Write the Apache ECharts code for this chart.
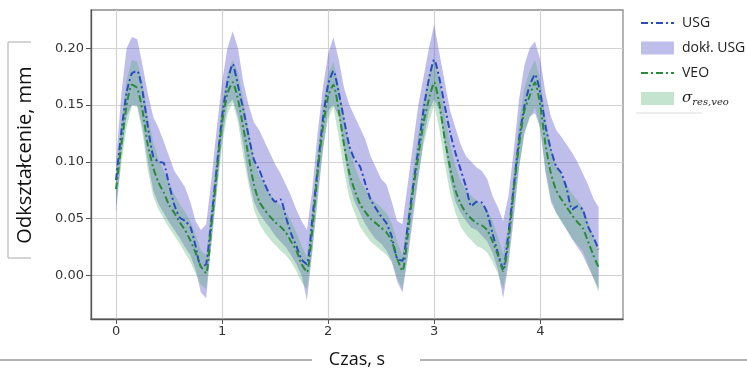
<!DOCTYPE html>
<html>
<head>
<meta charset="utf-8">
<script src="https://cdn.jsdelivr.net/npm/echarts@6/dist/echarts.min.js"></script>
<style>
  html, body { margin: 0; padding: 0; background: #fff; }
  #chart { width: 747px; height: 372px; }
</style>
</head>
<body>
<div id="chart"></div>
<script>
// time, s (sampled every 0.05 s)
const time = [
  0.00, 0.05, 0.10, 0.15, 0.20, 0.25, 0.30, 0.35, 0.40, 0.45,
  0.50, 0.55, 0.60, 0.65, 0.70, 0.75, 0.80, 0.85, 0.90, 0.95,
  1.00, 1.05, 1.10, 1.15, 1.20, 1.25, 1.30, 1.35, 1.40, 1.45,
  1.50, 1.55, 1.60, 1.65, 1.70, 1.75, 1.80, 1.85, 1.90, 1.95,
  2.00, 2.05, 2.10, 2.15, 2.20, 2.25, 2.30, 2.35, 2.40, 2.45,
  2.50, 2.55, 2.60, 2.65, 2.70, 2.75, 2.80, 2.85, 2.90, 2.95,
  3.00, 3.05, 3.10, 3.15, 3.20, 3.25, 3.30, 3.35, 3.40, 3.45,
  3.50, 3.55, 3.60, 3.65, 3.70, 3.75, 3.80, 3.85, 3.90, 3.95,
  4.00, 4.05, 4.10, 4.15, 4.20, 4.25, 4.30, 4.35, 4.40, 4.45,
  4.50, 4.55
];

// USG mean deformation, mm
const usg = [
  0.084, 0.126, 0.161, 0.178, 0.180, 0.162, 0.131, 0.105, 0.100, 0.099,
  0.080, 0.062, 0.051, 0.048, 0.043, 0.026, 0.008, 0.010, 0.050, 0.095,
  0.140, 0.170, 0.186, 0.167, 0.146, 0.123, 0.102, 0.093, 0.081, 0.071,
  0.065, 0.067, 0.052, 0.037, 0.026, 0.014, 0.010, 0.049, 0.093, 0.137,
  0.168, 0.180, 0.161, 0.137, 0.114, 0.102, 0.096, 0.081, 0.067, 0.059,
  0.052, 0.046, 0.034, 0.015, 0.013, 0.043, 0.078, 0.111, 0.146, 0.173,
  0.190, 0.173, 0.149, 0.126, 0.108, 0.093, 0.078, 0.061, 0.065, 0.064,
  0.055, 0.037, 0.020, 0.006, 0.037, 0.078, 0.120, 0.149, 0.167, 0.177,
  0.161, 0.131, 0.111, 0.096, 0.090, 0.076, 0.058, 0.061, 0.058, 0.043,
  0.034, 0.023
];

// USG accuracy band (upper / lower), mm
const usgHi = [
  0.100, 0.160, 0.200, 0.210, 0.208, 0.185, 0.160, 0.140, 0.130, 0.118,
  0.105, 0.092, 0.085, 0.078, 0.065, 0.048, 0.040, 0.045, 0.085, 0.130,
  0.170, 0.200, 0.215, 0.200, 0.170, 0.150, 0.135, 0.128, 0.118, 0.108,
  0.098, 0.090, 0.080, 0.070, 0.058, 0.048, 0.040, 0.075, 0.125, 0.165,
  0.195, 0.210, 0.190, 0.165, 0.150, 0.140, 0.130, 0.120, 0.105, 0.095,
  0.085, 0.080, 0.065, 0.048, 0.045, 0.080, 0.115, 0.150, 0.175, 0.200,
  0.221, 0.195, 0.170, 0.145, 0.130, 0.115, 0.105, 0.100, 0.095, 0.092,
  0.085, 0.070, 0.060, 0.048, 0.070, 0.110, 0.155, 0.185, 0.200, 0.206,
  0.190, 0.160, 0.140, 0.128, 0.122, 0.115, 0.108, 0.100, 0.090, 0.080,
  0.068, 0.060
];
const usgLo = [
  0.055, 0.105, 0.140, 0.150, 0.150, 0.130, 0.100, 0.075, 0.063, 0.055,
  0.047, 0.040, 0.033, 0.025, 0.018, 0.005, -0.015, -0.020, 0.030, 0.075,
  0.120, 0.150, 0.155, 0.140, 0.115, 0.085, 0.065, 0.055, 0.048, 0.042,
  0.035, 0.030, 0.025, 0.018, 0.010, 0.000, -0.022, 0.020, 0.065, 0.110,
  0.145, 0.150, 0.140, 0.110, 0.080, 0.065, 0.055, 0.045, 0.038, 0.032,
  0.028, 0.022, 0.012, -0.005, -0.015, 0.015, 0.050, 0.085, 0.120, 0.145,
  0.155, 0.145, 0.115, 0.085, 0.065, 0.055, 0.048, 0.042, 0.040, 0.035,
  0.030, 0.020, 0.005, -0.020, 0.010, 0.050, 0.095, 0.125, 0.140, 0.143,
  0.130, 0.090, 0.065, 0.055, 0.048, 0.040, 0.032, 0.025, 0.018, 0.008,
  -0.002, -0.012
];

// VEO deformation, mm
const veo = [
  0.076, 0.115, 0.150, 0.168, 0.165, 0.145, 0.115, 0.095, 0.082, 0.073,
  0.062, 0.055, 0.047, 0.040, 0.031, 0.020, 0.008, 0.002, 0.045, 0.090,
  0.135, 0.160, 0.170, 0.155, 0.130, 0.105, 0.080, 0.065, 0.058, 0.052,
  0.047, 0.043, 0.038, 0.030, 0.022, 0.010, 0.003, 0.040, 0.090, 0.130,
  0.158, 0.168, 0.145, 0.115, 0.090, 0.075, 0.063, 0.056, 0.050, 0.046,
  0.042, 0.038, 0.030, 0.015, 0.004, 0.035, 0.075, 0.105, 0.135, 0.155,
  0.170, 0.150, 0.120, 0.095, 0.075, 0.063, 0.055, 0.050, 0.046, 0.044,
  0.040, 0.030, 0.018, 0.004, 0.030, 0.075, 0.115, 0.145, 0.158, 0.170,
  0.150, 0.115, 0.090, 0.075, 0.067, 0.060, 0.053, 0.047, 0.042, 0.030,
  0.018, 0.007
];

// sigma_res,veo band (upper / lower), mm
const veoHi = [
  0.088, 0.135, 0.172, 0.190, 0.188, 0.170, 0.140, 0.118, 0.102, 0.092,
  0.082, 0.072, 0.063, 0.056, 0.048, 0.036, 0.022, 0.018, 0.062, 0.108,
  0.152, 0.178, 0.190, 0.178, 0.155, 0.128, 0.102, 0.088, 0.080, 0.072,
  0.066, 0.062, 0.056, 0.048, 0.038, 0.026, 0.016, 0.058, 0.108, 0.150,
  0.178, 0.188, 0.168, 0.138, 0.112, 0.096, 0.084, 0.076, 0.068, 0.064,
  0.060, 0.055, 0.046, 0.030, 0.018, 0.052, 0.092, 0.124, 0.155, 0.176,
  0.190, 0.172, 0.142, 0.116, 0.096, 0.083, 0.075, 0.070, 0.066, 0.063,
  0.058, 0.048, 0.034, 0.018, 0.046, 0.092, 0.135, 0.165, 0.180, 0.190,
  0.172, 0.138, 0.112, 0.096, 0.088, 0.080, 0.072, 0.066, 0.060, 0.048,
  0.035, 0.022
];
const veoLo = [
  0.062, 0.098, 0.130, 0.150, 0.148, 0.125, 0.092, 0.070, 0.058, 0.050,
  0.042, 0.035, 0.028, 0.020, 0.012, 0.002, -0.008, -0.012, 0.028, 0.072,
  0.115, 0.142, 0.152, 0.135, 0.105, 0.080, 0.058, 0.046, 0.038, 0.032,
  0.027, 0.022, 0.018, 0.012, 0.004, -0.006, -0.012, 0.022, 0.072, 0.110,
  0.138, 0.148, 0.122, 0.092, 0.068, 0.055, 0.043, 0.036, 0.030, 0.026,
  0.022, 0.018, 0.012, -0.002, -0.012, 0.018, 0.058, 0.088, 0.115, 0.135,
  0.150, 0.128, 0.098, 0.072, 0.055, 0.043, 0.036, 0.031, 0.026, 0.024,
  0.020, 0.012, 0.002, -0.012, 0.014, 0.058, 0.095, 0.125, 0.138, 0.148,
  0.128, 0.092, 0.068, 0.055, 0.047, 0.040, 0.033, 0.027, 0.022, 0.010,
  -0.002, -0.015
];

const xTicks = [0, 1, 2, 3, 4];
const yTicks = [0, 0.05, 0.10, 0.15, 0.20];

const SIGMA = 'σres,veo';
const usgLine = '#2a4cc0';
const veoLine = '#2a8a3a';
const usgFill = 'rgba(95,90,200,0.40)';
const veoFill = 'rgba(70,172,110,0.32)';

const pairs = arr => time.map((t, i) => [t, arr[i]]);
const triples = (lo, hi) => time.map((t, i) => [t, lo[i], hi[i]]);

// filled band between lo and hi, drawn as one polygon
const bandSeries = (name, lo, hi, color) => ({
  name, type: 'custom', silent: true,
  data: triples(lo, hi),
  encode: { x: 0, y: [1, 2] },
  itemStyle: { color },
  renderItem: (params, api) => {
    if (params.dataIndex !== 0) return null;
    const upper = time.map((t, i) => api.coord([t, hi[i]]));
    const lower = time.map((t, i) => api.coord([t, lo[i]])).reverse();
    return {
      type: 'polygon',
      shape: { points: upper.concat(lower) },
      style: { fill: color, stroke: null }
    };
  }
});

const chart = echarts.init(document.getElementById('chart'));

const option = {
  animation: false,
  backgroundColor: '#fff',
  grid: {
    left: 91, top: 10, width: 532, height: 309,
    show: true, borderColor: '#8c8c8c', borderWidth: 1.3,
    containLabel: false, outerBoundsMode: 'none'
  },
  legend: {
    orient: 'vertical', left: 635, top: 11,
    itemWidth: 33, itemHeight: 13, itemGap: 11,
    textStyle: {
      fontFamily: 'Open Sans', fontSize: 14, color: '#222', padding: [0, 0, 0, 3],
      rich: {
        s: { fontFamily: 'DejaVu Serif', fontStyle: 'italic', fontSize: 15, color: '#222' },
        sub: { fontFamily: 'DejaVu Serif', fontStyle: 'italic', fontSize: 10, color: '#222', padding: [7, 0, 0, 0] }
      }
    },
    formatter: name => name === SIGMA ? '{s|σ}{sub|res,veo}' : name,
    data: [
      { name: 'USG', itemStyle: { opacity: 0 } },
      { name: 'dokł. USG', icon: 'rect', itemStyle: { color: usgFill, borderWidth: 0 } },
      { name: 'VEO', itemStyle: { opacity: 0 } },
      { name: SIGMA, icon: 'rect', itemStyle: { color: veoFill, borderWidth: 0 } }
    ]
  },
  xAxis: {
    type: 'value', min: -0.236, max: 4.78,
    name: 'Czas, s', nameLocation: 'middle', nameGap: 32,
    nameTextStyle: { fontFamily: 'Open Sans', fontSize: 18, color: '#111' },
    axisLine: { show: true, onZero: false, lineStyle: { color: '#555', width: 1.3 } },
    axisTick: { show: true, length: 5, customValues: xTicks, lineStyle: { color: '#555' } },
    axisLabel: { customValues: xTicks, margin: 6, fontFamily: 'DejaVu Sans', fontSize: 13, color: '#333' },
    splitLine: { show: true, lineStyle: { color: '#d2d2d2', width: 1.2 } }
  },
  yAxis: {
    type: 'value', min: -0.0383, max: 0.2337,
    axisLine: { show: true, onZero: false, lineStyle: { color: '#555', width: 1.3 } },
    axisTick: { show: true, length: 5, customValues: yTicks, lineStyle: { color: '#555' } },
    axisLabel: {
      customValues: yTicks, margin: 7, fontFamily: 'DejaVu Sans', fontSize: 13, color: '#333',
      formatter: v => v.toFixed(2)
    },
    splitLine: { show: true, lineStyle: { color: '#d2d2d2', width: 1.2 } }
  },
  graphic: [
    {
      type: 'text', x: 25, y: 155, rotation: Math.PI / 2,
      style: {
        text: 'Odkształcenie, mm', fontFamily: 'Open Sans', fontSize: 20, fill: '#111',
        align: 'center', verticalAlign: 'middle'
      }
    },
    // rules beside the x-axis title and bracket beside the y-axis title
    { type: 'line', shape: { x1: 0, y1: 360, x2: 312, y2: 360 }, style: { stroke: '#666', lineWidth: 1 } },
    { type: 'line', shape: { x1: 420, y1: 360, x2: 747, y2: 360 }, style: { stroke: '#666', lineWidth: 1 } },
    { type: 'polyline', shape: { points: [[31, 42], [8, 42], [8, 258], [31, 258]] }, style: { stroke: '#aaa', lineWidth: 1, fill: null } },
    { type: 'line', shape: { x1: 636, y1: 113, x2: 702, y2: 113 }, style: { stroke: '#ddd', lineWidth: 1 } }
  ],
  series: [
    bandSeries('dokł. USG', usgLo, usgHi, usgFill),
    bandSeries(SIGMA, veoLo, veoHi, veoFill),
    {
      name: 'USG', type: 'line', data: pairs(usg), symbol: 'none', smooth: 0.2,
      itemStyle: { color: usgLine },
      lineStyle: { color: usgLine, width: 2, type: [7, 3, 2, 3] }
    },
    {
      name: 'VEO', type: 'line', data: pairs(veo), symbol: 'none', smooth: 0.2,
      itemStyle: { color: veoLine },
      lineStyle: { color: veoLine, width: 2, type: [7, 3, 2, 3] }
    }
  ]
};

chart.setOption(option);
</script>
</body>
</html>
